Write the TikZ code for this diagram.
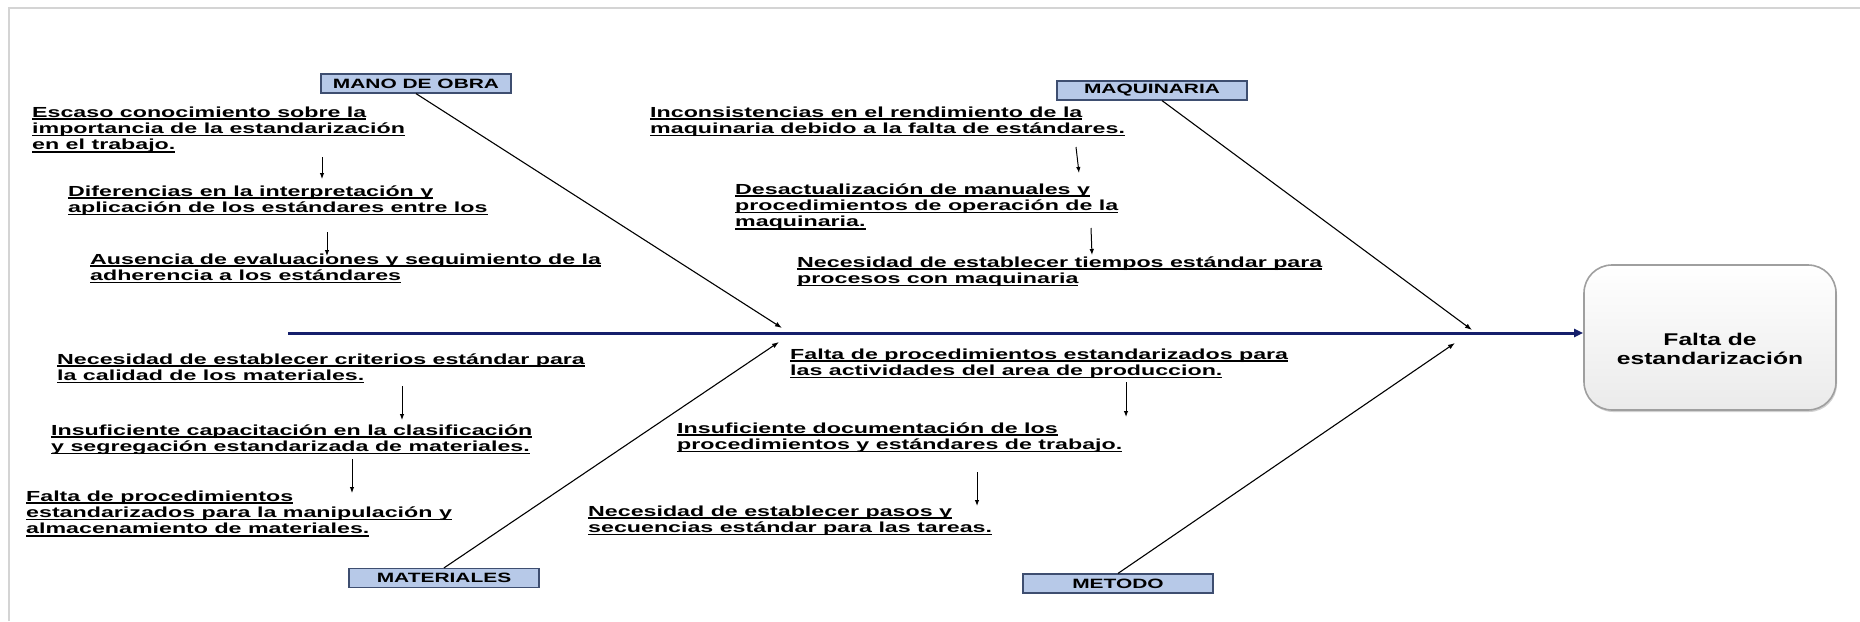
\documentclass[tikz,border=0pt]{standalone}
\usepackage{fontspec}
\usetikzlibrary{arrows.meta,shadows}
\newfontfamily\causefont[FakeStretch=1.59]{Liberation Sans}
\newfontfamily\catfont[FakeStretch=1.55]{Liberation Sans}
\newfontfamily\headfont[FakeStretch=1.45]{Liberation Sans}
\definecolor{spinecol}{HTML}{151F6B}
\definecolor{catfill}{HTML}{B7C9E8}
\definecolor{catdraw}{HTML}{3E4E70}
\definecolor{framecol}{HTML}{D4D4D4}
% underlined line of a cause text
\newcommand\undl[1]{\setbox0=\hbox{#1}\rlap{\rule[-3pt]{\wd0}{1.8pt}}\box0}
\newcommand\causeline[1]{\hbox{\undl{#1}}}
\newcommand\causeblock[1]{\vtop{\lineskiplimit=-20pt #1}}
\tikzset{
  cause/.style={anchor=base west, inner sep=0pt,
    font=\causefont\bfseries\fontsize{14.6}{16.3}\selectfont},
  category/.style={draw=catdraw, fill=catfill, line width=1.2pt,
    minimum width=190pt, minimum height=19pt, inner sep=0pt,
    font=\catfont\bfseries\fontsize{13.5}{15}\selectfont},
  effect/.style={draw=gray!75, line width=1.6pt, rounded corners=28pt,
    minimum width=252pt, minimum height=145pt, inner sep=0pt,
    top color=white, bottom color=gray!16,
    drop shadow={shadow xshift=1pt, shadow yshift=-2pt, opacity=0.35}},
  effectlabel/.style={align=center, text=black,
    font=\headfont\bfseries\fontsize{17}{19}\selectfont},
  spine/.style={draw=spinecol, line width=3pt, -{Triangle[length=9pt,width=8pt]}},
  bone/.style={draw=black, line width=1.1pt, -{Latex[length=7pt,width=5pt]}},
  link/.style={draw=black, line width=1pt, -{Latex[length=6pt,width=4.5pt]}},
}
\begin{document}
\begin{tikzpicture}[x=1pt,y=-1pt]
\useasboundingbox (0,0) rectangle (1860,621);
\fill[white] (0,0) rectangle (1860,621);
% page frame
\draw[framecol, line width=1.2pt] (9,621) -- (9,8) -- (1860,8);

% effect
\node[effect, label={[effectlabel, yshift=-11pt]center:{Falta de\\estandarización}}]
  (eff) at (1710,337.5) {};

% spine
\coordinate (tail) at (288,333);
\draw[spine] (tail) -- (tail -| eff.west);

% categories
\node[category] (mano) at (416,83.5) {MANO DE OBRA};
\node[category] (maq)  at (1152,90.5) {MAQUINARIA};
\node[category] (mat)  at (444,578) {MATERIALES};
\node[category] (met)  at (1118,583.5) {METODO};

\coordinate (jmano) at (782,328);
\coordinate (jmaq)  at (1472,330);
\coordinate (jmat)  at (779,342);
\coordinate (jmet)  at (1455,343);
\draw[bone] (mano.south) -- (jmano);
\draw[bone] ([xshift=10pt]maq.south) -- (jmaq);
\draw[bone] (mat.north) -- (jmat);
\draw[bone] (met.north) -- (jmet);

% MANO DE OBRA causes
\node[cause] (c11) at (32,117) {\causeblock{%
  \causeline{Escaso conocimiento sobre la}%
  \causeline{importancia de la estandarización}%
  \causeline{en el trabajo.}}};
\node[cause] (c12) at (68,196) {\causeblock{%
  \causeline{Diferencias en la interpretación y}%
  \causeline{aplicación de los estándares entre los}}};
\node[cause] (c13) at (90,264) {\causeblock{%
  \causeline{Ausencia de evaluaciones y seguimiento de la}%
  \causeline{adherencia a los estándares}}};

% MAQUINARIA causes
\node[cause] (c21) at (650,117) {\causeblock{%
  \causeline{Inconsistencias en el rendimiento de la}%
  \causeline{maquinaria debido a la falta de estándares.}}};
\node[cause] (c22) at (735,194) {\causeblock{%
  \causeline{Desactualización de manuales y}%
  \causeline{procedimientos de operación de la}%
  \causeline{maquinaria.}}};
\node[cause] (c23) at (797,267) {\causeblock{%
  \causeline{Necesidad de establecer tiempos estándar para}%
  \causeline{procesos con maquinaria}}};

% MATERIALES causes
\node[cause] (c31) at (57,364) {\causeblock{%
  \causeline{Necesidad de establecer criterios estándar para}%
  \causeline{la calidad de los materiales.}}};
\node[cause] (c32) at (51,435) {\causeblock{%
  \causeline{Insuficiente capacitación en la clasificación}%
  \causeline{y segregación estandarizada de materiales.}}};
\node[cause] (c33) at (26,501) {\causeblock{%
  \causeline{Falta de procedimientos}%
  \causeline{estandarizados para la manipulación y}%
  \causeline{almacenamiento de materiales.}}};

% METODO causes
\node[cause] (c41) at (790,359) {\causeblock{%
  \causeline{Falta de procedimientos estandarizados para}%
  \causeline{las actividades del area de produccion.}}};
\node[cause] (c42) at (677,433) {\causeblock{%
  \causeline{Insuficiente documentación de los}%
  \causeline{procedimientos y estándares de trabajo.}}};
\node[cause] (c43) at (588,516) {\causeblock{%
  \causeline{Necesidad de establecer pasos y}%
  \causeline{secuencias estándar para las tareas.}}};

% links between successive causes
\coordinate (a1s) at (322,157); \coordinate (a1e) at (322,179);
\coordinate (a2s) at (327,232); \coordinate (a2e) at (327,256);
\coordinate (b1s) at (1076,147); \coordinate (b1e) at (1079,173);
\coordinate (b2s) at (1091,228); \coordinate (b2e) at (1092,255);
\coordinate (d1s) at (402,386); \coordinate (d1e) at (402,420);
\coordinate (d2s) at (352,459); \coordinate (d2e) at (352,493);
\coordinate (e1s) at (1126,382); \coordinate (e1e) at (1126,417);
\coordinate (e2s) at (977,472); \coordinate (e2e) at (977,506);
\foreach \p in {a1,a2,b1,b2,d1,d2,e1,e2}
  \draw[link] (\p s) -- (\p e);
\end{tikzpicture}
\end{document}
